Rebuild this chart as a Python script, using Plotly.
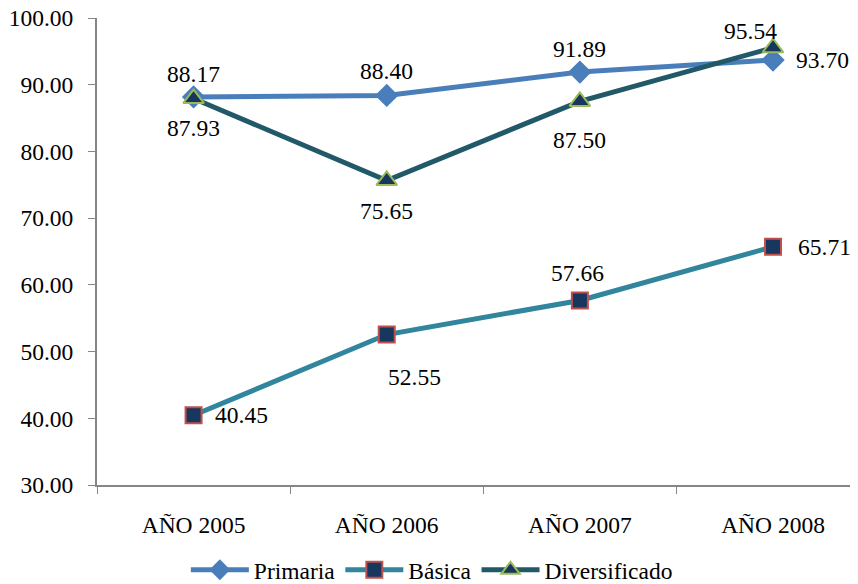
import plotly.graph_objects as go

categories = ["AÑO 2005", "AÑO 2006", "AÑO 2007", "AÑO 2008"]
primaria = [88.17, 88.40, 91.89, 93.70]
basica = [40.45, 52.55, 57.66, 65.71]
diversificado = [87.93, 75.65, 87.50, 95.54]
y_ticks = [30, 40, 50, 60, 70, 80, 90, 100]

FONT = "Liberation Serif"
FS = 23.5

fig = go.Figure()
fig.add_trace(go.Scatter(
    x=categories, y=primaria, name="Primaria", mode="lines+markers",
    line=dict(color="#4A7EBB", width=5),
    marker=dict(symbol="diamond", size=18, color="#4A7EBB"),
))
fig.add_trace(go.Scatter(
    x=categories, y=basica, name="Básica", mode="lines+markers",
    line=dict(color="#31859C", width=5),
    marker=dict(symbol="square", size=16, color="#17375E",
                line=dict(color="#C0504D", width=2)),
))
fig.add_trace(go.Scatter(
    x=categories, y=diversificado, name="Diversificado", mode="lines+markers",
    line=dict(color="#215968", width=5),
    marker=dict(symbol="triangle-up", size=18, color="#17375E",
                line=dict(color="#9BBB59", width=2)),
))

# label offsets (pixels) and anchors, per series
label_specs = [
    (primaria, [(0, 23, "center"), (0, 24, "center"), (0, 23, "center"), (21, 0, "left")]),
    (basica, [(19, 0, "left"), (28, -42, "center"), (-2, 27, "center"), (23, 0, "left")]),
    (diversificado, [(0, -29, "center"), (0, -31, "center"), (0, -39, "center"), (-23, 17, "center")]),
]
for values, specs in label_specs:
    for cat, v, (dx, dy, anchor) in zip(categories, values, specs):
        fig.add_annotation(
            x=cat, y=v, text=f"{v:.2f}", showarrow=False,
            xanchor=anchor, yanchor="middle", xshift=dx, yshift=dy,
            font=dict(family=FONT, size=FS, color="black"),
        )

fig.update_layout(
    width=850, height=576,
    margin=dict(l=89, r=0, t=10, b=99, autoexpand=False),
    paper_bgcolor="white", plot_bgcolor="white",
    font=dict(family=FONT, size=FS, color="black"),
    showlegend=True,
    legend=dict(
        orientation="h", x=0.44, xanchor="center", y=-0.182, yanchor="middle",
        font=dict(family=FONT, size=FS, color="black"),
        itemwidth=58, tracegroupgap=0,
    ),
)
fig.update_xaxes(
    type="category", range=[-0.5, 3.44], automargin=False,
    showline=True, linecolor="#868686", linewidth=2,
    ticks="outside", tickson="boundaries", ticklen=7, tickcolor="#868686", tickwidth=1,
    showgrid=False, zeroline=False,
    tickfont=dict(family=FONT, size=FS, color="black"),
    ticklabelstandoff=18,
)
fig.update_yaxes(
    range=[30, 100], tickvals=y_ticks, tickformat=".2f", automargin=False,
    ticklabeloverflow="allow",
    showline=True, linecolor="#868686", linewidth=2,
    ticks="outside", ticklen=7, tickcolor="#868686", tickwidth=1,
    showgrid=False, zeroline=False,
    tickfont=dict(family=FONT, size=FS, color="black"),
    ticklabelstandoff=10,
)

fig.write_html("out.html")
